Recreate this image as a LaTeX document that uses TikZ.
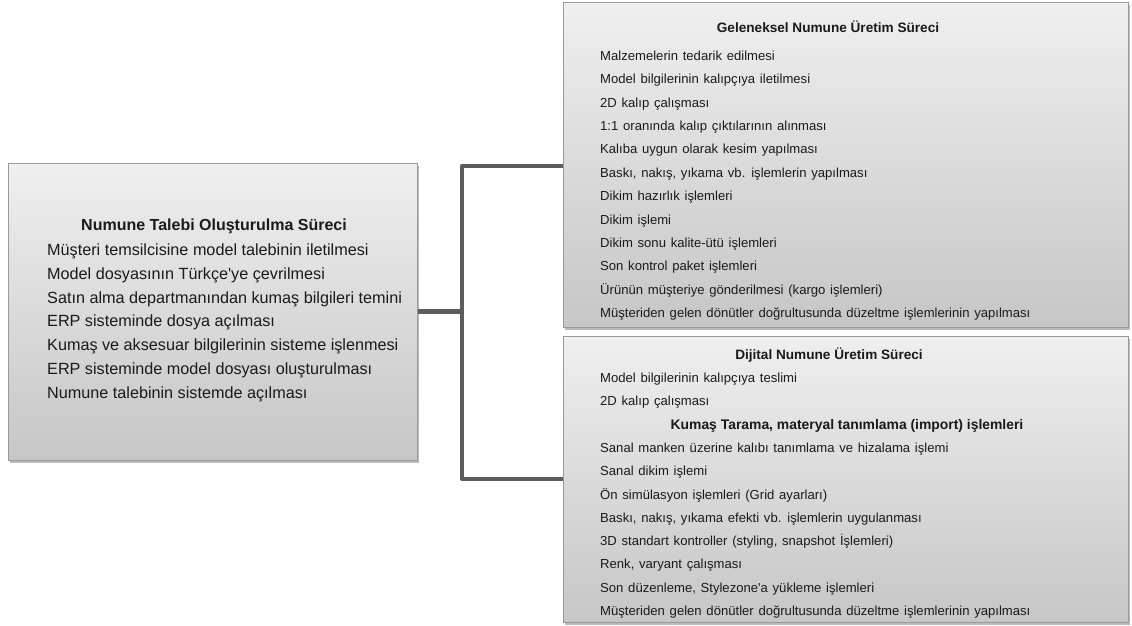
\documentclass[tikz,border=0pt]{standalone}
\usepackage{fontspec}
\setmainfont{Liberation Sans}
\usetikzlibrary{shadows}
\definecolor{boxtop}{HTML}{EFEFEF}
\definecolor{boxbot}{HTML}{C6C6C6}
\definecolor{boxline}{HTML}{9A9A9A}
\definecolor{conncol}{HTML}{5C5C5C}
\definecolor{txt}{HTML}{1A1A1A}
\tikzset{
  procbox/.style={rectangle, draw=boxline, line width=1pt, top color=boxtop, bottom color=boxbot,
    inner sep=0pt, drop shadow={shadow xshift=2pt, shadow yshift=-2.5pt, opacity=0.45, fill=black!60}},
  conn/.style={draw=conncol, line width=4.5pt, line join=round},
  bigtitle/.style={anchor=base, inner sep=0pt, text=txt, font=\fontsize{16}{19}\selectfont\bfseries},
  bigitem/.style={anchor=base west, inner sep=0pt, text=txt, font=\fontsize{16.2}{19}\selectfont},
  smalltitle/.style={anchor=base, inner sep=0pt, text=txt, font=\fontsize{13.6}{15}\selectfont\bfseries},
  smallitem/.style={anchor=base west, inner sep=0pt, text=txt, font=\fontsize{13.1}{15}\selectfont,
    execute at begin node={\spaceskip=0.36em plus 0.1em\relax}},
}
\begin{document}
\begin{tikzpicture}[x=1pt,y=-1pt]
\useasboundingbox[fill=white] (0,0) rectangle (1132,626);
% boxes
\node[procbox, minimum width=409pt, minimum height=297pt] (L) at (212.5,311.5) {};
\node[procbox, minimum width=565pt, minimum height=324pt] (TR) at (845.5,165) {};
\node[procbox, minimum width=565pt, minimum height=286pt] (BR) at (845.5,479) {};
% connectors
\coordinate (J) at (462,311.5);
\coordinate (J1) at (462,166);
\coordinate (J2) at (462,479);
\draw[conn] (L.east) -- (J);
\draw[conn] (TR.west |- J1) -- (J1) -- (J2) -- (BR.west |- J2);
% left box text
\node[bigtitle] (Lt) at (214,230.5) {Numune Talebi Oluşturulma Süreci};
\foreach \t [count=\i] in {
  {Müşteri temsilcisine model talebinin iletilmesi},
  {Model dosyasının Türkçe\textquotesingle ye çevrilmesi},
  {Satın alma departmanından kumaş bilgileri temini},
  {ERP sisteminde dosya açılması},
  {Kumaş ve aksesuar bilgilerinin sisteme işlenmesi},
  {ERP sisteminde model dosyası oluşturulması},
  {Numune talebinin sistemde açılması}}
  \node[bigitem] (L\i) at (47,{255.5+(\i-1)*23.8}) {\t};
% top right text
\node[smalltitle] (Tt) at (828,32.5) {Geleneksel Numune Üretim Süreci};
\foreach \t [count=\i] in {
  {Malzemelerin tedarik edilmesi},
  {Model bilgilerinin kalıpçıya iletilmesi},
  {2D kalıp çalışması},
  {1:1 oranında kalıp çıktılarının alınması},
  {Kalıba uygun olarak kesim yapılması},
  {Baskı, nakış, yıkama vb. işlemlerin yapılması},
  {Dikim hazırlık işlemleri},
  {Dikim işlemi},
  {Dikim sonu kalite-ütü işlemleri},
  {Son kontrol paket işlemleri},
  {Ürünün müşteriye gönderilmesi (kargo işlemleri)},
  {Müşteriden gelen dönütler doğrultusunda düzeltme işlemlerinin yapılması}}
  \node[smallitem] (T\i) at (600,{60.5+(\i-1)*23.36}) {\t};
% bottom right text
\node[smalltitle] (Bt) at (829,359.5) {Dijital Numune Üretim Süreci};
\node[smallitem] (B1) at (600,382.5) {Model bilgilerinin kalıpçıya teslimi};
\node[smallitem] (B2) at (600,405.8) {2D kalıp çalışması};
\node[smalltitle, font=\fontsize{13.9}{16}\selectfont\bfseries] (B3) at (847,429.1) {Kumaş Tarama, materyal tanımlama (import) işlemleri};
\foreach \t [count=\i] in {
  {Sanal manken üzerine kalıbı tanımlama ve hizalama işlemi},
  {Sanal dikim işlemi},
  {Ön simülasyon işlemleri (Grid ayarları)},
  {Baskı, nakış, yıkama efekti vb. işlemlerin uygulanması},
  {3D standart kontroller (styling, snapshot İşlemleri)},
  {Renk, varyant çalışması},
  {Son düzenleme, Stylezone\textquotesingle a yükleme işlemleri},
  {Müşteriden gelen dönütler doğrultusunda düzeltme işlemlerinin yapılması}}
  \node[smallitem] (S\i) at (600,{452.4+(\i-1)*23.3}) {\t};
\end{tikzpicture}
\end{document}
